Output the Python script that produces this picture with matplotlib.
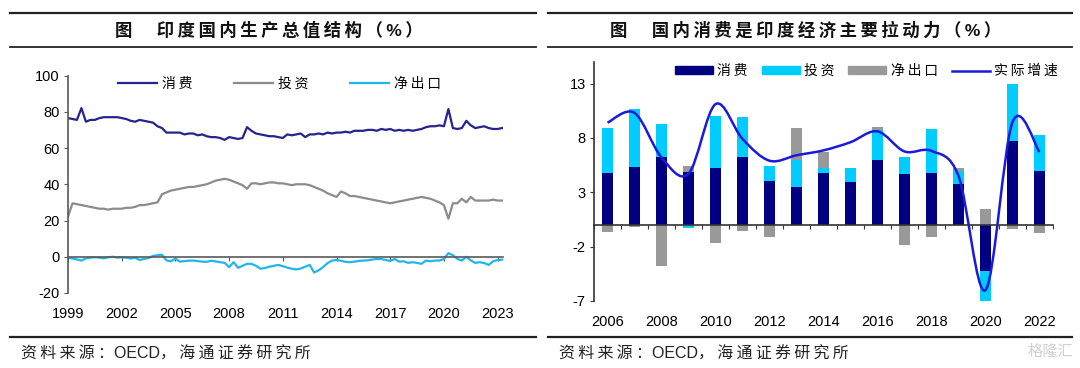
import numpy as np
import matplotlib.pyplot as plt
from matplotlib.path import Path
from matplotlib.patches import PathPatch, Patch
from matplotlib.lines import Line2D

plt.rcParams['font.family'] = ['Liberation Sans', 'Noto Sans CJK SC']
plt.rcParams['axes.unicode_minus'] = False

# ---- 左图：印度GDP结构（季度，1999Q1起） ----
start_year = 1999
consume = [76.5, 76, 75.5, 82,
           74.5, 75.5, 75.5, 76.5,
           77, 77, 77, 77,
           76.5, 76, 75, 74.5,
           75.5, 75, 74.5, 74,
           72, 71, 68.5, 68.5,
           68.5, 68.5, 67.5, 68,
           68, 67, 67.5, 66.5,
           66, 66, 65.5, 64.5,
           66, 65.5, 65, 65.5,
           71.5, 69.5, 68, 67.5,
           67, 66.5, 66.5, 66,
           65.5, 67.5, 67, 67.5,
           68, 66, 67.5, 67.5,
           68, 67.5, 68.5, 68,
           68.5, 68.5, 69, 68.5,
           69.5, 69.5, 69.5, 70,
           70, 69.5, 70.5, 70,
           70.5, 69.5, 70, 69.5,
           70, 69.5, 70, 70.5,
           71.5, 72, 72, 72.5,
           72, 81.5, 71, 70.5,
           71, 75, 72.5, 71,
           71.5, 72, 71, 70.5,
           70.5, 71]
invest = [22, 29.5, 29, 28.5,
          28, 27.5, 27, 26.5,
          26.5, 26, 26.5, 26.5,
          26.5, 27, 27, 27.5,
          28.5, 28.5, 29, 29.5,
          30, 34.5, 35.5, 36.5,
          37, 37.5, 38, 38.5,
          38.5, 39, 39.5, 40,
          41, 42, 42.5, 43,
          42.5, 41.5, 40.5, 39.5,
          37.5, 40.5, 40.5, 40,
          40.5, 41, 41, 40.5,
          40.5, 40, 39.5, 40,
          40, 40, 39.5, 38.5,
          37.5, 36.5, 35, 34,
          33, 36, 35, 33.5,
          33.5, 33, 32.5, 32,
          31.5, 31, 30.5, 30,
          29.5, 30, 30.5, 31,
          31.5, 32, 32.5, 33,
          32.5, 32, 31, 30,
          28.5, 21, 29.5, 29.5,
          32, 30, 33, 31,
          31, 31, 31, 31.5,
          31, 31]
net_export = [-0.5, -1.0, -1.5, -2.1,
              -0.9, -0.5, -0.3, -0.5,
              -0.9, -0.3, 0, -0.5,
              -0.3, -0.5, -1.0, -0.5,
              -1.8, -1.2, -0.7, 0.5,
              0.8, 1.1, -2.0, -2.5,
              -1.0, -2.7, -2.4, -2.2,
              -2.1, -2.4, -2.7, -2.8,
              -2.2, -2.6, -3.0, -3.4,
              -5.7, -3.0, -6.1, -5.0,
              -3.9, -3.9, -5.0, -6.6,
              -6.2, -5.5, -5.0, -4.5,
              -5.2, -6.0, -6.6, -7.0,
              -6.5, -5.5, -4.5, -8.7,
              -7.5, -5.7, -3.5, -2.1,
              -1.8, -2.2, -2.8, -3.0,
              -2.7, -2.3, -2.1, -2.0,
              -1.5, -1.25, -1.25, -1.8,
              -2.3, -1.25, -2.7, -2.5,
              -3.4, -3.0, -3.4, -3.9,
              -2.1, -2.5, -2.1, -2.1,
              -1.25, 2.0, 0.9, -1.2,
              -2.1, 0, -2.0, -3.4,
              -3.0, -3.5, -4.5, -2.5,
              -1.8, -1.6]
left_xticks = list(range(1999, 2024, 3))
left_yticks = [-20, 0, 20, 40, 60, 80, 100]

# ---- 右图：GDP增长贡献（年度） ----
years = list(range(2006, 2023))
cons_c = [4.8, 5.3, 6.2, 4.9, 5.2, 6.2, 4.0, 3.45, 4.8, 3.9, 6.0, 4.7, 4.8, 3.75, -4.26, 7.7, 4.93]
inv_c = [4.1, 5.35, 3.1, -0.25, 4.85, 3.75, 1.4, 2.5, 0.4, 1.3, 2.75, 1.5, 4.0, 1.25, -2.9, 5.3, 3.37]
net_c = [-0.67, -0.2, -3.75, 0.5, -1.67, -0.52, -1.13, 2.95, 1.5, 0, 0.25, -1.86, -1.13, 0.27, 1.43, -0.37, -0.73]
growth = [9.4, 10.3, 6.2, 4.7, 11.1, 7.9, 5.9, 6.4, 6.85, 7.6, 8.6, 6.75, 6.8, 4.5, -6.0, 9.45, 6.7]
right_xticks = list(range(2006, 2023, 2))
right_yticks = [-7, -2, 3, 8, 13]

W, H = 1080, 368
fig = plt.figure(figsize=(W / 100, H / 100), dpi=100)

axis_col = '#595959'


def fx(px):
    return px / W


def fy(py):
    return 1 - py / H


def spaced(s):
    # 中文字符之间加细空格，模拟原图的字距
    return '\u2009'.join(s)


# 标题和分隔线
for x0, x1, title in [(10, 536, '图　印度国内生产总值结构（%）'),
                      (548, 1072, '图　国内消费是印度经济主要拉动力（%）')]:
    fig.add_artist(Line2D([fx(x0), fx(x1)], [fy(12.8)] * 2, color='#222222', lw=1.6))
    fig.add_artist(Line2D([fx(x0), fx(x1)], [fy(47.4)] * 2, color='#222222', lw=1.3))
    fig.add_artist(Line2D([fx(x0), fx(x1)], [fy(337)] * 2, color='#222222', lw=1.6))
    fig.text(fx((x0 + x1) / 2 - 4), fy(30), spaced(title), ha='center', va='center',
             fontsize=12.5, fontweight='bold', color='#111111')
    fig.text(fx(x0 + 11), fy(354), spaced('资料来源：') + 'OECD' + spaced('，海通证券研究所'),
             ha='left', va='center', fontsize=11.5, color='#222222')
fig.text(fx(1050), fy(352), '格隆汇', ha='center', va='center', fontsize=11, color='#d0d0d0')

# ---- 左图 ----
ax1 = fig.add_axes([fx(68), 1 - 293 / H, fx(503 - 68), (293 - 75.5) / H])
qx = start_year + np.arange(len(consume)) / 4
ax1.plot(qx, consume, color='#24248C', lw=1.6, label=spaced('消费'))
ax1.plot(qx, invest, color='#8C8C8C', lw=1.6, label=spaced('投资'))
ax1.plot(qx, net_export, color='#1FB6EC', lw=1.6, label=spaced('净出口'))
ax1.set_xlim(1999, 2023.3)
ax1.set_ylim(-20, 100)
ax1.set_yticks(left_yticks)
ax1.set_xticks(left_xticks)
ax1.spines['top'].set_visible(False)
ax1.spines['right'].set_visible(False)
ax1.spines['bottom'].set_position(('data', 0))
for s in ['left', 'bottom']:
    ax1.spines[s].set_color(axis_col)
    ax1.spines[s].set_linewidth(1.2)
ax1.tick_params(axis='x', labelbottom=False, direction='out', length=3, color=axis_col)
ax1.tick_params(axis='y', direction='out', length=3, color=axis_col, labelsize=10.5, pad=3)
sec1 = ax1.secondary_xaxis('bottom')
sec1.set_xticks(left_xticks)
sec1.spines['bottom'].set_visible(False)
sec1.tick_params(length=0, pad=10, labelsize=10.5)
ax1.legend(loc='upper left', bbox_to_anchor=(0.115, 0.995), ncol=3, frameon=False,
           borderpad=0, borderaxespad=0, handlelength=2.8, handletextpad=0.35,
           columnspacing=3.0, fontsize=10)

# ---- 右图 ----
ax2 = fig.add_axes([fx(594), 1 - 301 / H, fx(1053 - 594), (301 - 61.75) / H])
series = [(cons_c, '#000080'), (inv_c, '#00CCFF'), (net_c, '#999999')]
pos_base = np.zeros(len(years))
neg_base = np.zeros(len(years))
for vals, col in series:
    v = np.array(vals, dtype=float)
    bottoms = np.where(v >= 0, pos_base, neg_base)
    ax2.bar(years, v, bottom=bottoms, width=0.4, color=col, zorder=2)
    pos_base = pos_base + np.where(v >= 0, v, 0)
    neg_base = neg_base + np.where(v < 0, v, 0)

# 平滑曲线（Excel 式平滑）
pts = np.column_stack([years, growth]).astype(float)
verts = [pts[0]]
codes = [Path.MOVETO]
n = len(pts)
for i in range(n - 1):
    p0 = pts[i - 1] if i > 0 else pts[i]
    p1 = pts[i]
    p2 = pts[i + 1]
    p3 = pts[i + 2] if i + 2 < n else pts[i + 1]
    verts += [p1 + (p2 - p0) / 6, p2 - (p3 - p1) / 6, p2]
    codes += [Path.CURVE4] * 3
ax2.add_patch(PathPatch(Path(verts, codes), facecolor='none', edgecolor='#1A1ADB',
                        lw=1.8, zorder=3))

ax2.set_xlim(2005.5, 2022.5)
ax2.set_ylim(-7, 15)
ax2.set_yticks(right_yticks)
ax2.set_xticks(np.arange(2005.5, 2023, 1))
ax2.spines['top'].set_visible(False)
ax2.spines['right'].set_visible(False)
ax2.spines['bottom'].set_position(('data', 0))
for s in ['left', 'bottom']:
    ax2.spines[s].set_color('#333333')
    ax2.spines[s].set_linewidth(1.2)
ax2.spines['bottom'].set_zorder(4)
ax2.tick_params(axis='x', labelbottom=False, direction='out', length=3, color='#333333')
ax2.tick_params(axis='y', direction='out', length=3, color='#333333', labelsize=10.5, pad=3)
sec2 = ax2.secondary_xaxis('bottom')
sec2.set_xticks(right_xticks)
sec2.spines['bottom'].set_visible(False)
sec2.tick_params(length=0, pad=10, labelsize=10.5)

handles = [Patch(color='#000080'), Patch(color='#00CCFF'), Patch(color='#999999'),
           Line2D([], [], color='#1A1ADB', lw=1.8)]
ax2.legend(handles, [spaced(t) for t in ['消费', '投资', '净出口', '实际增速']], loc='upper left',
           bbox_to_anchor=(0.176, 0.99), ncol=4, frameon=False, borderpad=0,
           borderaxespad=0, handlelength=2.75, handleheight=0.5, handletextpad=0.3,
           columnspacing=1.0, fontsize=10)

fig.savefig('out.png', dpi=100)
